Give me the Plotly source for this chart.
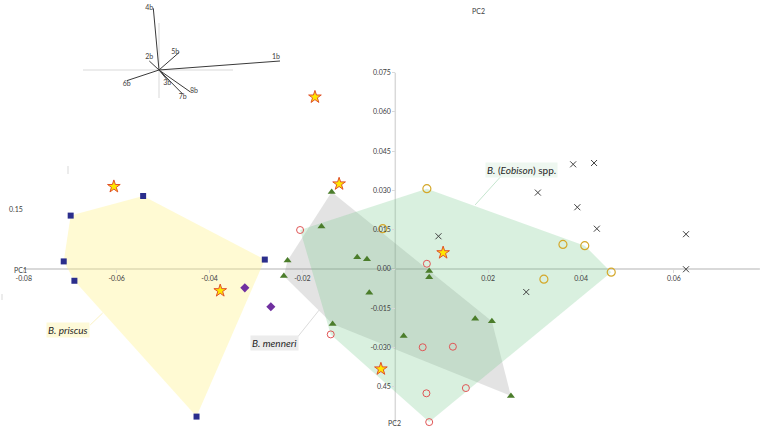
import plotly.graph_objects as go

# ---- PCA scores (PC1, PC2) by group ----
priscus_pc1 = [-0.0543, -0.0699, -0.0714, -0.0691, -0.0281, -0.0428]
priscus_pc2 = [0.0279, 0.0204, 0.0029, -0.0045, 0.0036, -0.0564]

diamond_pc1 = [-0.0324, -0.0268]
diamond_pc2 = [-0.0072, -0.0144]

star_pc1 = [-0.0606, -0.0377, -0.0173, -0.0121, 0.0103, -0.0031]
star_pc2 = [0.0315, -0.0083, 0.0657, 0.0325, 0.0062, -0.0382]

menneri_pc1 = [-0.0137, -0.0159, -0.0232, -0.0240, -0.0082, -0.0061, -0.0056,
               0.0073, 0.0073, -0.0135, 0.0018, 0.0172, 0.0208, 0.0249]
menneri_pc2 = [0.0294, 0.0162, 0.0032, -0.0027, 0.0045, 0.0037, -0.0091,
               -0.0008, -0.0032, -0.0210, -0.0256, -0.0190, -0.0200, -0.0485]

red_pc1 = [-0.0205, 0.0068, -0.0139, 0.0059, 0.0124, 0.0067, 0.0152, 0.0073]
red_pc2 = [0.0149, 0.0020, -0.0250, -0.0299, -0.0297, -0.0475, -0.0455, -0.0585]

gold_pc1 = [0.0068, -0.0027, 0.0361, 0.0408, 0.0465, 0.0320]
gold_pc2 = [0.0307, 0.0154, 0.0094, 0.0089, -0.0012, -0.0039]

cross_pc1 = [0.0093, 0.0383, 0.0428, 0.0307, 0.0392, 0.0434, 0.0282, 0.0626, 0.0626]
cross_pc2 = [0.0125, 0.0400, 0.0405, 0.0292, 0.0236, 0.0154, -0.0088, 0.0133, -0.0001]

# hull vertex order (indices into the group arrays)
priscus_hull = [0, 4, 5, 3, 2, 1]
menneri_hull = [0, 12, 13, 9, 3, 2]
eobison_hull = [("g", 0), ("g", 3), ("g", 4), ("r", 7), ("r", 2), ("r", 0)]

# ---- variable loadings for the biplot inset ----
load_names = ["1b", "2b", "3b", "4b", "5b", "6b", "7b", "8b"]
load_x = [1.21, -0.097, 0.083, -0.057, 0.203, -0.323, 0.237, 0.31]
load_y = [0.09, 0.09, -0.10, 0.617, 0.177, -0.107, -0.24, -0.217]
load_pos = ["top left", "top center", "bottom center", "middle left",
            "middle left", "bottom center", "bottom center", "middle right"]

# ---- axis ticks ----
x_ticks = [-0.08, -0.06, -0.04, -0.02, 0.02, 0.04, 0.06]
x_ticktext = ["-0.08", "-0.06", "-0.04", "-0.02", "0.02", "0.04", "0.06"]
y_ticks = [0.075, 0.060, 0.045, 0.030, 0.015, 0.0, -0.015, -0.030, -0.045]
y_ticktext = ["0.075", "0.060", "0.045", "0.030", "0.015", "0.00", "-0.015", "-0.030", "0.45"]

W, H = 767, 433
FONT = "Lato"
X_RANGE = [-0.08512, 0.08004]
Y_RANGE = [-0.06267, 0.10279]


def closed(xs, ys, idx):
    px = [xs[i] for i in idx] + [xs[idx[0]]]
    py = [ys[i] for i in idx] + [ys[idx[0]]]
    return px, py


fig = go.Figure()

# convex hulls
hx, hy = closed(priscus_pc1, priscus_pc2, priscus_hull)
fig.add_trace(go.Scatter(x=hx, y=hy, mode="lines", fill="toself", line=dict(width=0),
                         fillcolor="rgba(255,243,140,0.38)", hoverinfo="skip"))
hx, hy = closed(menneri_pc1, menneri_pc2, menneri_hull)
fig.add_trace(go.Scatter(x=hx, y=hy, mode="lines", fill="toself", line=dict(width=0),
                         fillcolor="rgba(128,128,128,0.22)", hoverinfo="skip"))
src = {"g": (gold_pc1, gold_pc2), "r": (red_pc1, red_pc2)}
ex = [src[g][0][i] for g, i in eobison_hull]
ey = [src[g][1][i] for g, i in eobison_hull]
fig.add_trace(go.Scatter(x=ex + ex[:1], y=ey + ey[:1], mode="lines", fill="toself",
                         line=dict(width=0), fillcolor="rgba(120,200,140,0.28)",
                         hoverinfo="skip"))

# point groups
fig.add_trace(go.Scatter(x=priscus_pc1, y=priscus_pc2, mode="markers",
                         marker=dict(symbol="square", size=6, color="#2B2E8C")))
fig.add_trace(go.Scatter(x=diamond_pc1, y=diamond_pc2, mode="markers",
                         marker=dict(symbol="diamond", size=7, color="#7030A0")))
fig.add_trace(go.Scatter(x=menneri_pc1, y=menneri_pc2, mode="markers",
                         marker=dict(symbol="triangle-up", size=7, color="#4B7D2B")))
fig.add_trace(go.Scatter(x=red_pc1, y=red_pc2, mode="markers",
                         marker=dict(symbol="circle-open", size=7, color="#E05555",
                                     line=dict(width=1))))
fig.add_trace(go.Scatter(x=gold_pc1, y=gold_pc2, mode="markers",
                         marker=dict(symbol="circle-open", size=8, color="#D4A82A",
                                     line=dict(width=1.2))))
fig.add_trace(go.Scatter(x=cross_pc1, y=cross_pc2, mode="markers",
                         marker=dict(symbol="x-thin", size=6, color="#404040",
                                     line=dict(width=1, color="#404040"))))
fig.add_trace(go.Scatter(x=star_pc1, y=star_pc2, mode="markers",
                         marker=dict(symbol="star", size=9.5, color="#FFE600",
                                     line=dict(width=1, color="#E0502A"))))

# biplot inset: loading vectors from the origin
vx, vy = [], []
for lx, ly in zip(load_x, load_y):
    vx += [0, lx, None]
    vy += [0, ly, None]
fig.add_trace(go.Scatter(x=vx, y=vy, mode="lines", xaxis="x2", yaxis="y2",
                         line=dict(color="#3a3a3a", width=1), hoverinfo="skip"))
fig.add_trace(go.Scatter(x=load_x, y=load_y, mode="text", text=load_names,
                         textposition=load_pos, xaxis="x2", yaxis="y2",
                         textfont=dict(family=FONT, size=7, color="#404040"),
                         hoverinfo="skip"))

shapes = [
    # main cross axes
    dict(type="line", xref="x", yref="y", x0=-0.08, x1=0.0785, y0=0, y1=0,
         line=dict(color="#d9d9d9", width=2), layer="below"),
    dict(type="line", xref="x", yref="y", x0=0, x1=0, y0=0.075, y1=-0.0589,
         line=dict(color="#d9d9d9", width=1.5), layer="below"),
    # inset axes
    dict(type="line", xref="x2", yref="y2", x0=-0.76, x1=0.74, y0=0, y1=0,
         line=dict(color="#d9d9d9", width=1), layer="below"),
    dict(type="line", xref="x2", yref="y2", x0=0, x1=0, y0=0.47, y1=-0.28,
         line=dict(color="#d9d9d9", width=1), layer="below"),
    # group label leaders
    dict(type="line", xref="x", yref="y", x0=0.0228, y0=0.0355, x1=0.0172, y1=0.0245,
         line=dict(color="#c6e6cf", width=1)),
    dict(type="line", xref="x", yref="y", x0=-0.0210, y0=-0.0259, x1=-0.0164, y1=-0.0157,
         line=dict(color="#dcdcdc", width=1)),
    dict(type="line", xref="x", yref="y", x0=-0.0657, y0=-0.0214, x1=-0.0630, y1=-0.0168,
         line=dict(color="#fbf3c4", width=1)),
    # stray marks
    dict(type="line", xref="paper", yref="paper", x0=2 / W, x1=2 / W,
         y0=1 - 294 / H, y1=1 - 300 / H, line=dict(color="#d9d9d9", width=1)),
    dict(type="line", xref="paper", yref="paper", x0=68 / W, x1=68 / W,
         y0=1 - 166 / H, y1=1 - 174 / H, line=dict(color="#d9d9d9", width=1)),
]

annotations = [
    dict(x=0.02715, y=0.0378, xref="x", yref="y", showarrow=False,
         text="<i>B.</i> (<i>Eobison</i>) spp.", bgcolor="#eef7f0", borderpad=1,
         font=dict(family=FONT, size=10, color="#262626")),
    dict(x=-0.0261, y=-0.0283, xref="x", yref="y", showarrow=False,
         text="<i>B. menneri</i>", bgcolor="#ececec", borderpad=1,
         font=dict(family=FONT, size=10, color="#262626")),
    dict(x=-0.0705, y=-0.0233, xref="x", yref="y", showarrow=False,
         text="<i>B. priscus</i>", bgcolor="#fdf9d8", borderpad=1,
         font=dict(family=FONT, size=10, color="#262626")),
]
for txt, px, py in [("PC1", 12, 270), ("PC2", 478, 5), ("PC2", 394, 429), ("0.15", 7, 209)]:
    annotations.append(dict(x=px / W, y=1 - py / H, xref="paper", yref="paper",
                            showarrow=False, text=txt,
                            font=dict(family=FONT, size=7, color="#404040")))

fig.update_layout(
    width=W, height=H, margin=dict(l=0, r=0, t=0, b=0),
    paper_bgcolor="white", plot_bgcolor="rgba(0,0,0,0)",
    showlegend=False, shapes=shapes, annotations=annotations,
    font=dict(family=FONT, size=7, color="#404040"),
    xaxis=dict(range=X_RANGE, anchor="free", position=1 - 269 / H,
               tickvals=x_ticks, ticktext=x_ticktext, ticks="outside", ticklen=3,
               tickcolor="#d9d9d9", showgrid=False, zeroline=False, showline=False,
               tickfont=dict(family=FONT, size=7, color="#404040")),
    yaxis=dict(range=Y_RANGE, anchor="free", position=395.3 / W,
               tickvals=y_ticks, ticktext=y_ticktext, ticks="outside", ticklen=3,
               tickcolor="#d9d9d9", showgrid=False, zeroline=False, showline=False,
               tickfont=dict(family=FONT, size=7, color="#404040")),
    xaxis2=dict(domain=[60 / W, 300 / W], range=[-0.99, 1.41], anchor="y2",
                visible=False),
    yaxis2=dict(domain=[1 - 110 / H, 1], range=[-0.40, 0.70], anchor="x2",
                visible=False),
)

fig.write_html("out.html")
